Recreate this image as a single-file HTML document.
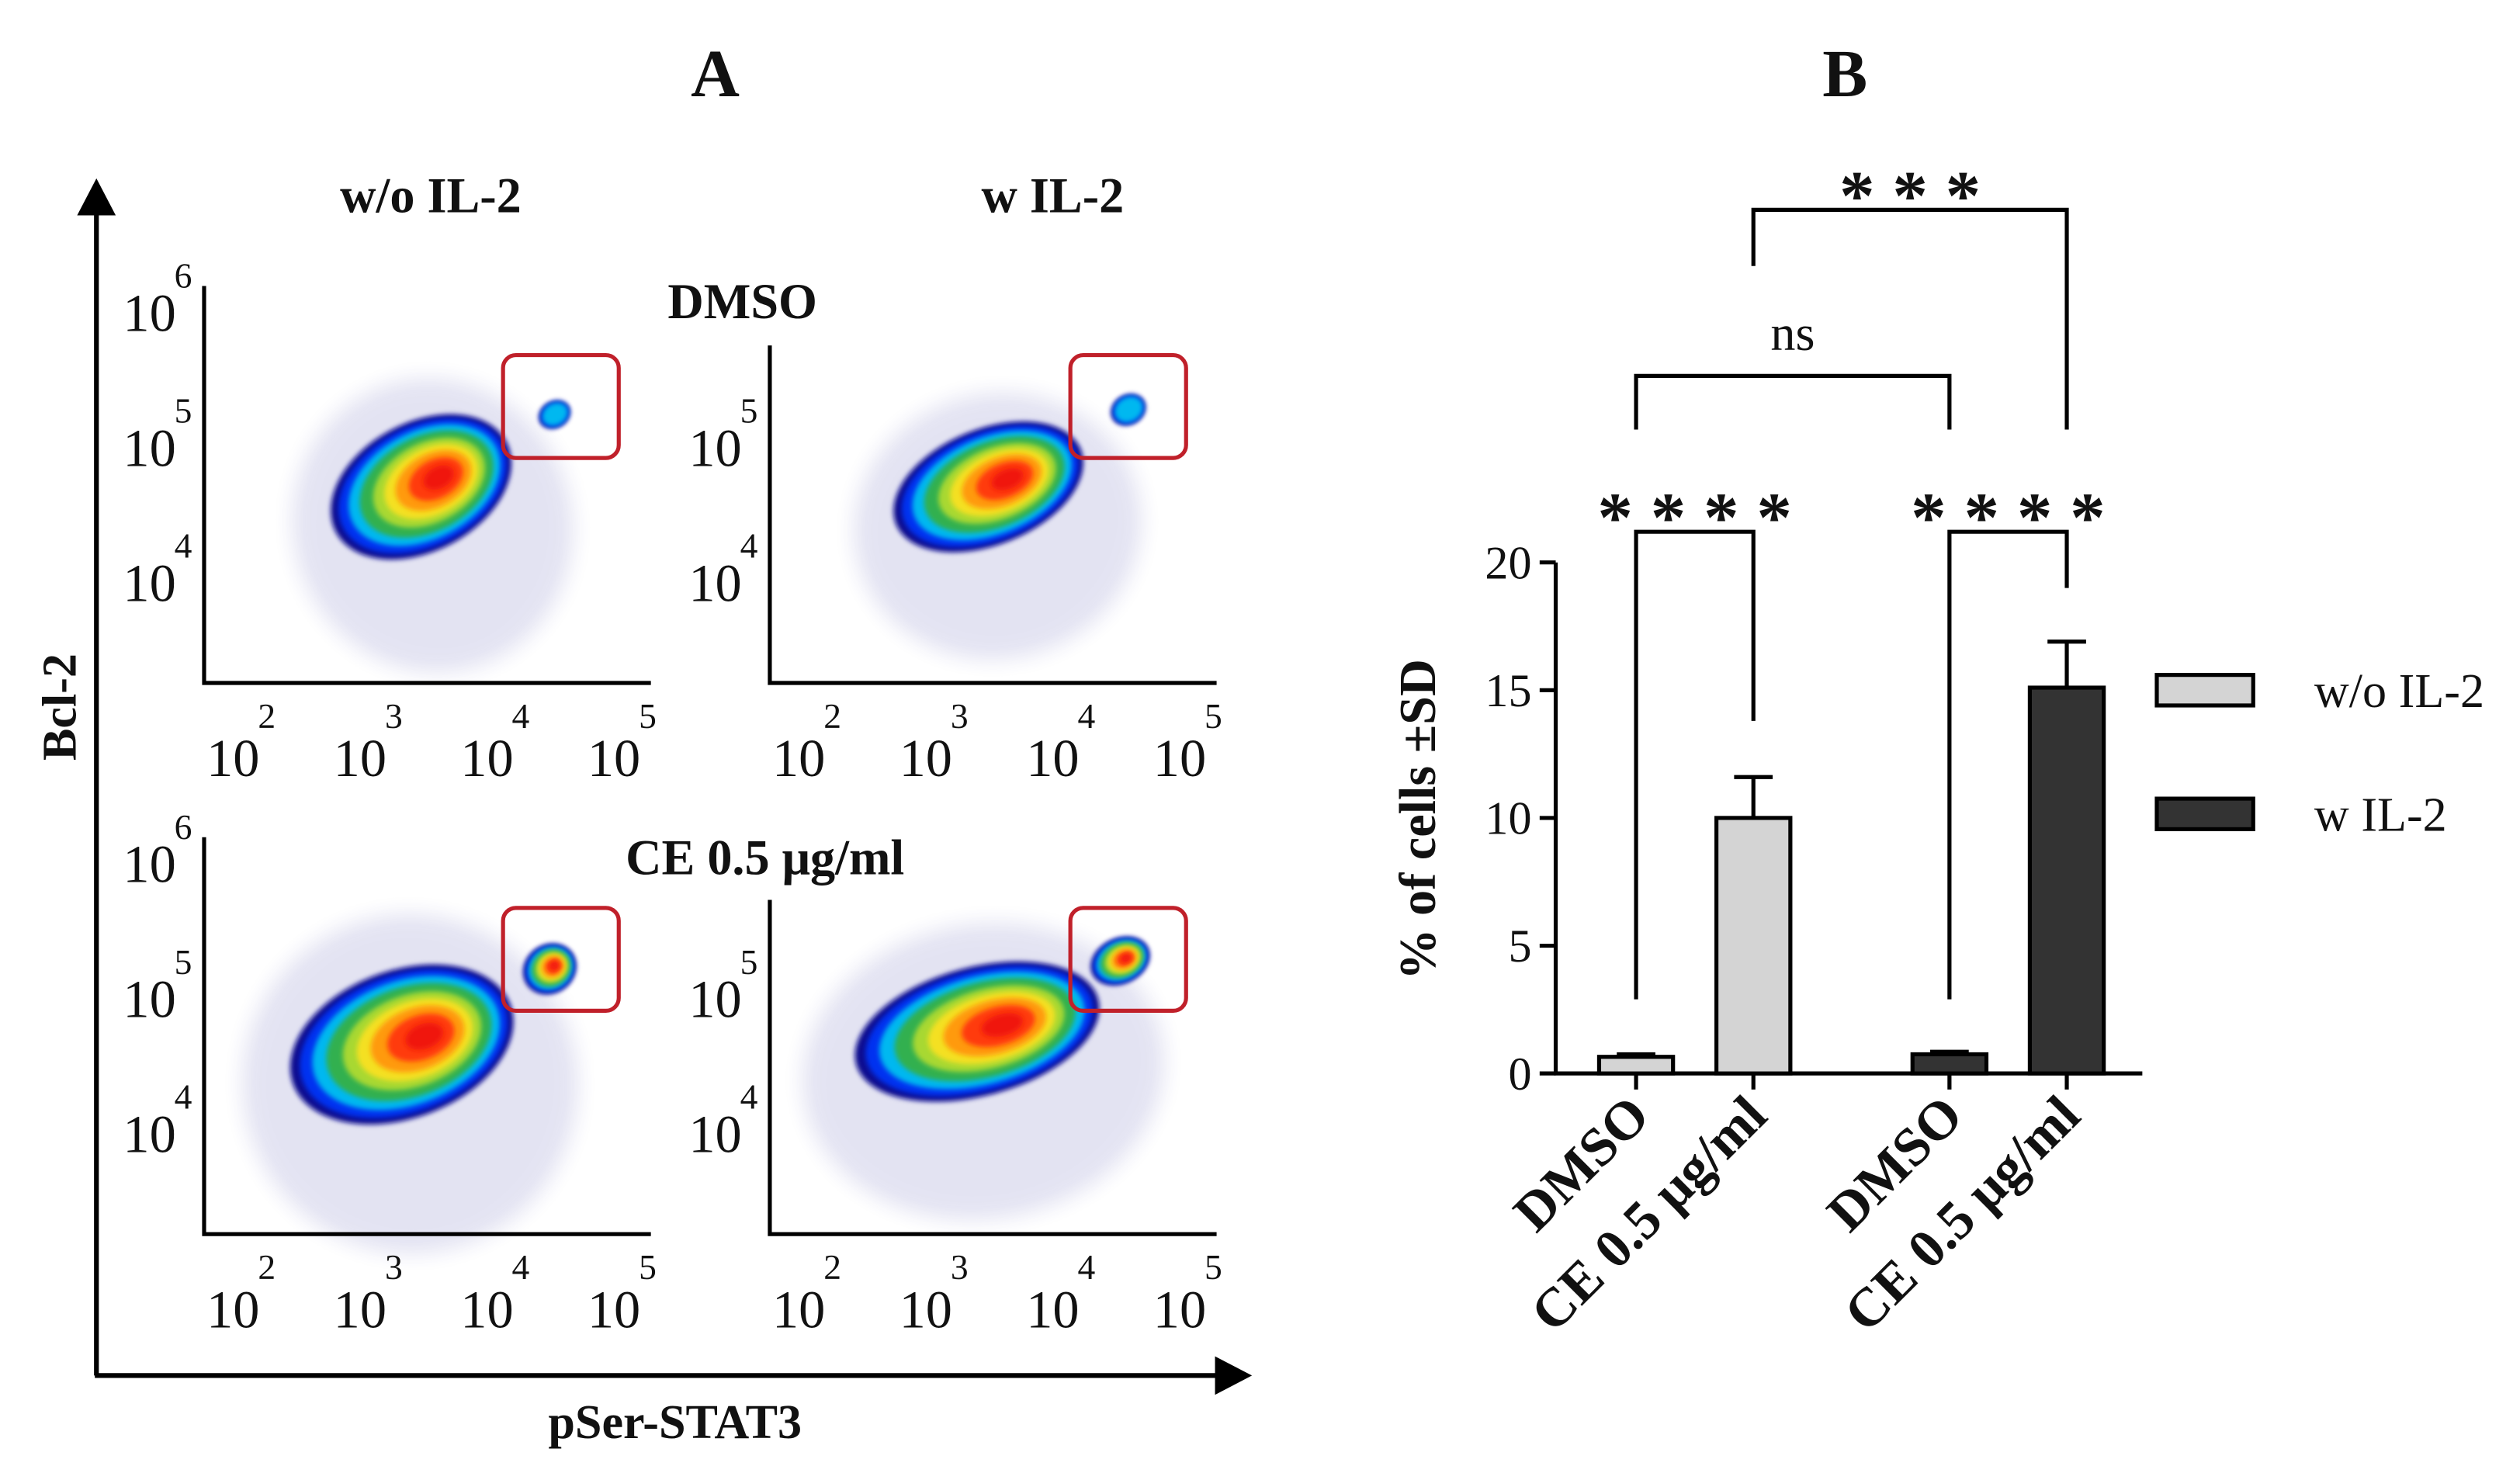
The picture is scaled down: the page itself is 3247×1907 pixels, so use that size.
<!DOCTYPE html>
<html><head><meta charset="utf-8"><style>
html,body{margin:0;padding:0;background:#fff}
svg{display:block}
text{font-family:"Liberation Serif",serif;fill:#111}
</style></head><body>
<svg id="fig" width="3247" height="1907" viewBox="0 0 1568 921" preserveAspectRatio="none" xmlns="http://www.w3.org/2000/svg">
<defs>
<filter id="soft" x="-30%" y="-30%" width="160%" height="160%"><feGaussianBlur stdDeviation="1.6"/></filter>
<filter id="haze" x="-50%" y="-50%" width="200%" height="200%"><feGaussianBlur stdDeviation="6"/></filter>
</defs>
<text x="445" y="60" font-size="42" font-weight="bold" text-anchor="middle">A</text>
<text x="1148" y="60" font-size="42" font-weight="bold" text-anchor="middle">B</text>

<g id="panelA">
<line x1="60" y1="128" x2="60" y2="856" stroke="#000" stroke-width="3"/>
<polygon points="48,134 72,134 60,111" fill="#000"/>
<line x1="59" y1="856" x2="760" y2="856" stroke="#000" stroke-width="3"/>
<polygon points="756,844 756,868 779,856" fill="#000"/>
<text transform="translate(47,440) rotate(-90)" font-size="30" font-weight="bold" text-anchor="middle">Bcl-2</text>
<text x="420" y="895" font-size="30" font-weight="bold" text-anchor="middle">pSer-STAT3</text>
<text x="268" y="132" font-size="31" font-weight="bold" text-anchor="middle">w/o IL-2</text>
<text x="655" y="132" font-size="31" font-weight="bold" text-anchor="middle">w IL-2</text>
<text x="462" y="198" font-size="31" font-weight="bold" text-anchor="middle">DMSO</text>
<text x="476" y="544" font-size="31" font-weight="bold" text-anchor="middle">CE 0.5 μg/ml</text>
</g>

<g id="panelB"></g>
</svg>
<script>
// ---- Panel B data ----
const categories = ["DMSO","CE 0.5 μg/ml","DMSO","CE 0.5 μg/ml"];
const groups = ["w/o IL-2","w/o IL-2","w IL-2","w IL-2"];
const barMeans = [0.65, 10.0, 0.75, 15.1];
const barSD = [0.1, 1.6, 0.1, 1.8];
const yTicks = [0,5,10,15,20];
const sigLabels = ["* * * *","* * * *","ns","* * *"];
// bracket: [from index, to index, top value, left foot value, right foot value]
const brackets = [[0,1,21.2,2.9,13.8],[2,3,21.2,2.9,19.0],[0,2,27.3,25.2,25.2],[1,3,33.8,31.6,25.2]];
const legendLabels = ["w/o IL-2","w IL-2"];

// ---- Panel A (flow plots) ----
const plotTitles = ["wo-dmso","w-dmso","wo-ce","w-ce"];
const xDecades = [2,3,4,5];
const yDecades = [4,5,6];

const NS="http://www.w3.org/2000/svg";
function mk(tag, attrs, parent){const e=document.createElementNS(NS,tag);for(const k in attrs)e.setAttribute(k,attrs[k]);parent.appendChild(e);return e;}
const B=document.getElementById('panelB');
const A=document.getElementById('panelA');

const y0=668, y20=350;
function yS(v){return y0-(v/20)*(y0-y20);}
const xCenters=[1018,1091,1213,1286];
function xS(i){return xCenters[i];}
const barW=46;

let ax=mk('line',{x1:968,y1:y20,x2:968,y2:y0+1,stroke:'#000','stroke-width':2.5},B);


yTicks.forEach(t=>{
  let l=mk('line',{x1:958,x2:968,y1:yS(t),y2:yS(t),stroke:'#000','stroke-width':2.5},B);
  
  
  let tx=mk('text',{x:953,y:yS(t)+10,'font-size':29,'text-anchor':'end'},B);
  tx.textContent=t;
  
  
});
let xa=mk('line',{x1:967,y1:y0,x2:1333,y2:y0,stroke:'#000','stroke-width':2.5},B);


let yt=mk('text',{transform:'translate(893,510) rotate(-90)','font-size':32,'font-weight':'bold','text-anchor':'middle'},B);
yt.textContent='% of cells  ±SD';



categories.forEach((c,i)=>{
  const light=groups[i]==="w/o IL-2";
  const x=xS(i);
  let tk=mk('line',{x1:x,x2:x,y1:y0,y2:y0+10,stroke:'#000','stroke-width':2.5},B);
  
  
  let er=mk('path',{d:`M${x},${yS(barMeans[i])} V${yS(barMeans[i]+barSD[i])} M${x-12},${yS(barMeans[i]+barSD[i])} H${x+12}`,stroke:'#000','stroke-width':2.5,fill:'none'},B);
  
  
  let r=mk('rect',{x:x-barW/2,y:yS(barMeans[i]),width:barW,height:y0-yS(barMeans[i]),fill:light?'#d4d4d4':'#333',stroke:'#000','stroke-width':2.5},B);
  
  
  let lb=mk('text',{transform:`translate(${x+10},${y0+28}) rotate(-45)`,'font-size':34,'font-weight':'bold','text-anchor':'end'},B);
  lb.textContent=c;
  
  
});

brackets.forEach((b,k)=>{
  const xl=xS(b[0]),xr=xS(b[1]);
  let p=mk('path',{d:`M${xl},${yS(b[3])} V${yS(b[2])} H${xr} V${yS(b[4])}`,stroke:'#000','stroke-width':2.5,fill:'none'},B);
  
  
  const isNs=sigLabels[k]==="ns";
  let t=mk('text',{x:(xl+xr)/2,y:yS(b[2])-(isNs?16:-6),'font-size':isNs?31:44,'font-weight':isNs?'normal':'bold','text-anchor':'middle','font-family':isNs?'Liberation Serif, serif':'Liberation Sans, sans-serif'},B);
  t.textContent=sigLabels[k];
  
  
});

legendLabels.forEach((l,i)=>{
  const y=420+i*77;
  let r=mk('rect',{x:1342,y:y,width:60,height:19,fill:i===0?'#d4d4d4':'#333',stroke:'#000','stroke-width':2.5},B);
  
  
  let t=mk('text',{x:1440,y:y+20,'font-size':30},B);
  t.textContent=l;
  
  
});

const offsets=[[0,0],[352,0],[0,343],[352,343]];
const axisTop=[178,215,521,560];
const mainBlob=[[262,303,60,40,-28],[615,303,62,36,-22],[250,650,72,46,-20],[608,642,78,40,-15]];
const gateBlob=[[345,258,10,8,-30],[702,255,11,9,-30],[342,603,17,15,-35],[697,598,19,14,-25]];
const cols=['#0b0b90','#0030f0','#00b8f0','#30b050','#a8d830','#f4e020','#ff9a10','#ff3a10','#f01808'];
const scl=[1,0.93,0.84,0.74,0.62,0.52,0.42,0.3,0.17];
function blob(g,cx,cy,rx,ry,rot,n,haze){
  if(haze){
    let h=mk('ellipse',{cx:cx,cy:cy+25,rx:rx*1.45,ry:ry*2.3,fill:'#3030a0',opacity:0.13,filter:'url(#haze)',transform:`rotate(${rot*0.6} ${cx} ${cy})`},g);
    
    
  }
  for(let i=0;i<n;i++){
    const s=scl[i];
    let e=mk('ellipse',{cx:cx+(1-s)*rx*0.25,cy:cy,rx:rx*s,ry:ry*s,fill:cols[i],filter:'url(#soft)',transform:`rotate(${rot} ${cx} ${cy})`},g);
    
    
  }
}
offsets.forEach((o,p)=>{
  const g=mk('g',{},A);
  
  
  const L=127+o[0],T=axisTop[p],Bt=425+o[1],R=405+o[0];
  const m=mainBlob[p];
  blob(g,m[0],m[1],m[2],m[3],m[4],9,true);
  const gb=gateBlob[p];
  blob(g,gb[0],gb[1],gb[2],gb[3],gb[4],p<2?3:9,false);
  let gate=mk('rect',{x:313+o[0]-(p%2?-1:0),y:221+o[1]+(p>=2?1:0),width:72,height:64,rx:8,fill:'none',stroke:'#c0202a','stroke-width':2.5},g);
  
  
  let axp=mk('path',{d:`M${L},${T} V${Bt} H${R}`,stroke:'#000','stroke-width':2.5,fill:'none'},g);
  
  
  xDecades.forEach((d,i)=>{
    const x=145+i*79+o[0];
    let t=mk('text',{x:x,y:483+o[1],'font-size':33,'text-anchor':'middle'},g);
    t.textContent='10';
    
    
    let e=mk('text',{x:x+21,y:453+o[1],'font-size':22,'text-anchor':'middle'},g);
    e.textContent=d;
    
    
  });
  yDecades.forEach((d,i)=>{
    if(d===6 && p%2===1) return;
    const y=374-i*84+o[1];
    const x=93+o[0];
    let t=mk('text',{x:x,y:y,'font-size':33,'text-anchor':'middle'},g);
    t.textContent='10';
    
    
    let e=mk('text',{x:x+21,y:y-27,'font-size':22,'text-anchor':'middle'},g);
    e.textContent=d;
    
    
  });
});
</script>
</body></html>
